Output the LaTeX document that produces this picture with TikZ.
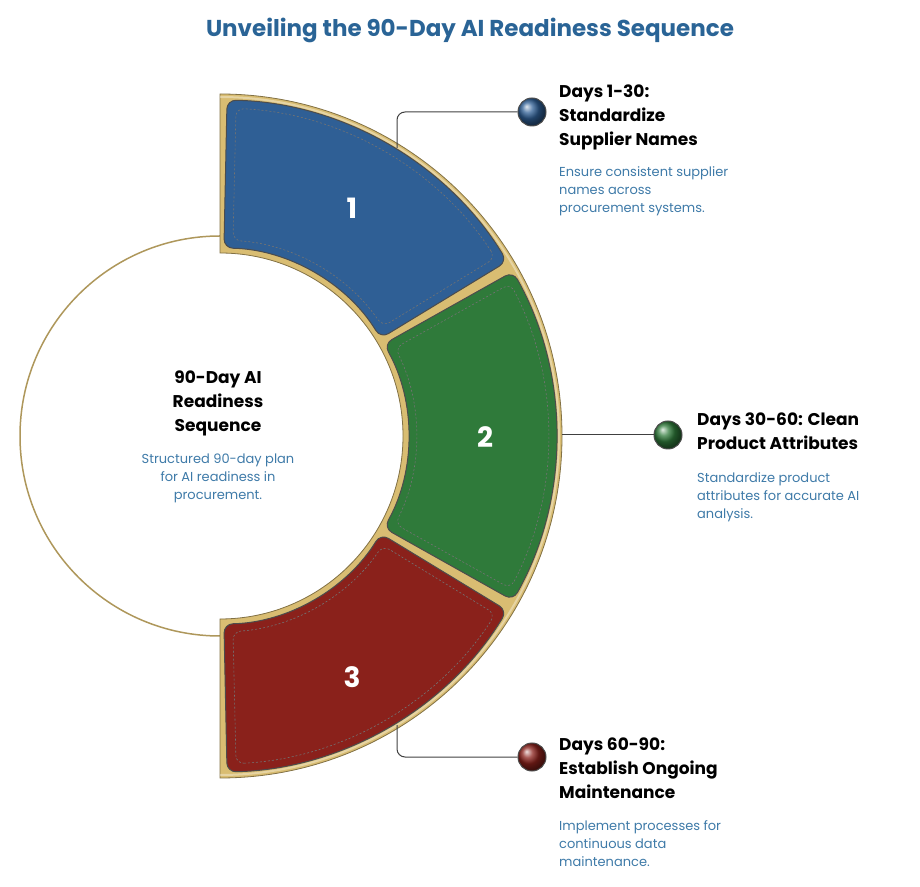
\documentclass[tikz,border=0pt]{standalone}
\usepackage{fontspec}
\setmainfont{Poppins}
\begin{document}
\begin{tikzpicture}[x=1pt,y=1pt,
  seg/.style={rounded corners=9pt,draw=black!70,line width=1pt},
  stitch/.style={draw=black!55,dashed,dash pattern=on 2pt off 2pt,line width=0.6pt},
  hdr/.style={anchor=north west,align=left,font=\fontsize{17}{24}\selectfont\bfseries,text=black,inner sep=0pt},
  dsc/.style={anchor=north west,align=left,font=\fontsize{13}{18}\selectfont,text=descblue,inner sep=0pt},
  num/.style={font=\fontsize{28}{30}\selectfont\bfseries,text=white},
  conn/.style={draw=black!75,line width=1pt,rounded corners=8pt}]
\definecolor{goldc}{HTML}{D9BD72}
\definecolor{descblue}{HTML}{3E7AA8}
\definecolor{titleblue}{HTML}{2A6496}
\definecolor{lblue}{HTML}{2F5F95}
\definecolor{lgreen}{HTML}{2F7A3A}
\definecolor{lred}{HTML}{8A211B}
\useasboundingbox (0,0) rectangle (920,886);
\coordinate (c) at (220,450);
\node[font=\fontsize{23}{27}\selectfont\bfseries,text=titleblue] (title) at (470,856) {Unveiling the 90-Day AI Readiness Sequence};
\draw[draw=goldc!80!black,line width=1.5pt] ([shift={(90:200)}]c) arc (90:270:200);
\fill[fill=goldc,draw=goldc!60!black,line width=0.8pt] ([shift={(90:342)}]c) arc (90:-90:342) -- ([shift={(-90:183)}]c) arc (-90:90:183) -- cycle;
\fill[white,opacity=0.35] ([shift={(90:340)}]c) arc (90:-90:340) -- ([shift={(-90:338)}]c) arc (-90:90:338) -- cycle;
\foreach \a/\b/\col in {31.3/88.8/lblue,-29.3/29.3/lgreen,-88.8/-31.3/lred}{
  \path[seg,fill=\col] ([shift={(\a:336)}]c) arc (\a:\b:336) -- ([shift={(\b:188)}]c) arc (\b:\a:188) -- cycle;
  \path[stitch,rounded corners=8pt] ([shift={(\a+1.6:328)}]c) arc (\a+1.6:\b-1.6:328) -- ([shift={(\b-2.6:196)}]c) arc (\b-2.6:\a+2.6:196) -- cycle;
}
\node[num] (n1) at (352,678) {1};
\node[num] (n2) at (485,449) {2};
\node[num] (n3) at (352,209) {3};
\foreach \p/\col/\nm in {{(532,774)}/lblue/d1,{(668,451)}/lgreen/d2,{(532,129)}/lred/d3}{
  \node[circle,minimum size=28pt,inner sep=0pt,draw=black!70,line width=1pt,ball color=\col] (\nm) at \p {};
}
\coordinate (a1) at (397,738);
\coordinate (a2) at (562,451);
\coordinate (a3) at (397,161);
\draw[conn] (a1) |- (d1.west);
\draw[conn] (a2) -- (d2.west);
\draw[conn] (a3) |- (d3.west);
\node[hdr] (h1) at (559,801) {Days 1-30:\\Standardize\\Supplier Names};
\node[dsc] (t1) at (559,720) {Ensure consistent supplier\\names across\\procurement systems.};
\node[hdr] (h2) at (697,473) {Days 30-60: Clean\\Product Attributes};
\node[dsc] (t2) at (697,414) {Standardize product\\attributes for accurate AI\\analysis.};
\node[hdr] (h3) at (559,148) {Days 60-90:\\Establish Ongoing\\Maintenance};
\node[dsc] (t3) at (559,66) {Implement processes for\\continuous data\\maintenance.};
\node[align=center,font=\fontsize{17}{24}\selectfont\bfseries,inner sep=0pt] (ch) at (218,483) {90-Day AI\\Readiness\\Sequence};
\node[align=center,font=\fontsize{13}{18}\selectfont,text=descblue,inner sep=0pt] (cd) at (218,408) {Structured 90-day plan\\for AI readiness in\\procurement.};
\end{tikzpicture}
\end{document}
